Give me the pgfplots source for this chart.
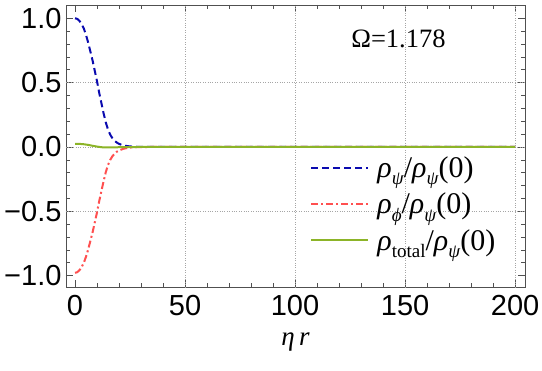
\documentclass[border=0pt]{standalone}
\usepackage{fontspec}
\setmainfont{Liberation Serif}
\setsansfont{Liberation Sans}
\usepackage{pgfplots}
\pgfplotsset{compat=1.18}

\definecolor{psiblue}{RGB}{10,10,175}
\definecolor{phired}{RGB}{255,80,80}
\definecolor{totgreen}{RGB}{140,180,40}
\definecolor{framegray}{RGB}{80,80,80}

\newcommand{\rsub}[2]{\textit{#1}\raisebox{-0.25em}{\fontsize{19}{19}\selectfont\textit{#2}}}
\newcommand{\rsubup}[2]{\textit{#1}\raisebox{-0.25em}{\fontsize{19}{19}\selectfont #2}}
\newcommand{\rnorm}{/\rsub{ρ}{ψ}(0)}

\begin{document}
\begin{tikzpicture}
\useasboundingbox (-66pt,-84pt) rectangle (476pt,287pt);
\begin{axis}[
  scale only axis,
  width=459pt, height=282pt,
  xmin=-4.1, xmax=204.5,
  ymin=-1.088, ymax=1.103,
  axis line style={framegray, line width=0.8pt},
  xtick={0,50,100,150,200},
  ytick={-1,-0.5,0,0.5,1},
  yticklabels={−1.0,−0.5,0.0,0.5,1.0},
  minor xtick={10,20,30,40,60,70,80,90,110,120,130,140,160,170,180,190},
  minor ytick={-0.9,-0.8,-0.7,-0.6,-0.4,-0.3,-0.2,-0.1,0.1,0.2,0.3,0.4,0.6,0.7,0.8,0.9},
  tick align=inside,
  tick pos=both,
  major tick length=7pt,
  minor tick length=4pt,
  tick style={framegray, line width=0.6pt},
  /pgf/number format/assume math mode=true,
  tick label style={font=\sffamily\fontsize{29}{29}\selectfont, text=black},
  xticklabel style={yshift=-5pt},
  yticklabel style={xshift=-1pt},
  extra x ticks={50,100,150,200},
  extra x tick labels={},
  extra y ticks={-0.5,0,0.5},
  extra y tick labels={},
  extra tick style={grid=major, major tick length=0pt,
    major grid style={gray!70, dotted, line width=0.8pt}},
  xlabel={\textit{η\,r}},
  xlabel style={font=\fontsize{27}{27}\selectfont, inner sep=0pt, yshift=-13pt},
  legend style={at={(rel axis cs:0.532,0.47)}, anchor=north west,
    draw=none, fill=none, font=\fontsize{30}{30}\selectfont,
    row sep=10pt, inner sep=0pt,
    nodes={inner xsep=8pt}},
  legend cell align=left,
  legend image code/.code={\draw[#1] (0pt,0pt) -- (57pt,0pt);},
  clip=true,
]
% charge density of the psi field, normalised to its central value
\addplot[psiblue, line width=2pt, dash pattern=on 7pt off 4pt] coordinates {
 (0,1.0) (1,0.995) (2,0.98) (3,0.955) (4,0.92) (5,0.87) (6,0.81) (7,0.74)
 (8,0.67) (9,0.59) (10,0.51) (11,0.42) (12,0.34) (13,0.26) (14,0.19)
 (15,0.135) (16,0.095) (17,0.068) (18,0.048) (19,0.034) (20,0.024)
 (22,0.012) (24,0.006) (26,0.003) (28,0.0015) (30,0.0007) (35,0.0001) (200,0)
};
\addlegendentry{\rsub{ρ}{ψ}\rnorm}
% charge density of the phi field
\addplot[phired, line width=2pt, dash pattern=on 7pt off 3pt on 2pt off 3pt] coordinates {
 (0,-0.978) (1,-0.973) (2,-0.958) (3,-0.934) (4,-0.9) (5,-0.852) (6,-0.795)
 (7,-0.729) (8,-0.662) (9,-0.585) (10,-0.508) (11,-0.42) (12,-0.343)
 (13,-0.264) (14,-0.195) (15,-0.14) (16,-0.1) (17,-0.072) (18,-0.052)
 (19,-0.037) (20,-0.027) (22,-0.014) (24,-0.007) (26,-0.003) (28,-0.0015)
 (30,-0.0007) (35,-0.0001) (200,0)
};
\addlegendentry{\rsub{ρ}{ϕ}\rnorm}
% total charge density
\addplot[totgreen, line width=2pt] coordinates {
 (0,0.024) (2,0.024) (4,0.021) (6,0.016) (8,0.009) (10,0.003) (12,-0.002)
 (14,-0.004) (16,-0.004) (18,-0.003) (20,-0.002) (24,-0.001) (30,0) (200,0)
};
\addlegendentry{\rsubup{ρ}{total}\rnorm}
\node[font=\fontsize{26.5}{26.5}\selectfont] at (axis cs:147,0.84) {Ω=1.178};
\end{axis}
\end{tikzpicture}
\end{document}
